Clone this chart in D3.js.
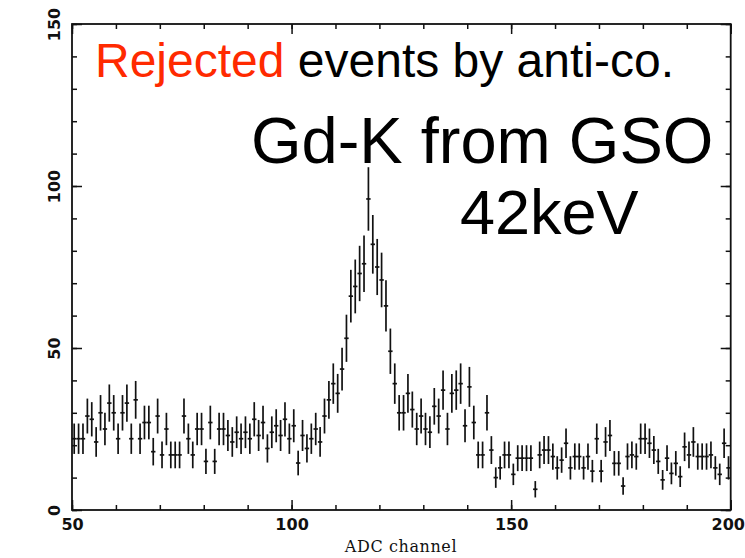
<!DOCTYPE html>
<html>
<head>
<meta charset="utf-8">
<script src="https://cdn.jsdelivr.net/npm/d3@7"></script>
<style>
  html, body { margin: 0; padding: 0; background: #fff; }
  svg { display: block; }
</style>
</head>
<body>
<svg id="chart" width="745" height="558"></svg>
<script>
// ---- data ----
const binStart = 50;          // first channel of first bin
const binWidth = 1;           // channels per bin
const counts = [
  22, 22, 22, 29, 28, 21, 30, 25, 33, 30,
  22, 30, 33, 22, 34, 22, 27, 27, 18, 29,
  17, 25, 17, 17, 17, 29, 22, 17, 25, 25,
  15, 27, 15, 25, 25, 23, 21, 24, 22, 24,
  22, 28, 23, 27, 19, 24, 26, 23, 28, 22,
  26, 14.5, 23, 19, 22, 25, 21, 29, 34, 39,
  36, 43.5, 53, 66, 69, 73, 76, 96, 82, 75,
  71, 63, 49, 39, 30, 30, 36, 31, 25, 29,
  25, 24, 32, 29, 37, 25, 36, 37, 39, 26,
  38, 27, 17, 17, 30, 18.5, 10, 13, 17, 17,
  11, 16, 16, 16, 16, 6.4, 17, 18.5, 18.5, 16.5,
  13, 15.4, 20.6, 13, 16.5, 16.5, 13, 16.5, 12, 22,
  12, 21, 23, 14.4, 14.4, 7.4, 16.5, 17, 16.5, 22,
  22, 20.6, 18.5, 15, 9.3, 16, 11.3, 14.4, 10.3, 19.5,
  17, 21, 16.5, 16.5, 16.5, 17, 13, 11, 20.6, 13
];
const xMajorTicks = [50, 100, 150, 200];
const xMinorTicks = d3.range(50, 201, 10);
const yMajorTicks = [0, 50, 100, 150];
const yMinorTicks = d3.range(0, 151, 10);
const xLabel = "ADC channel";
const titleRed = "Rejected";
const titleBlack = " events by anti-co.";
const note1 = "Gd-K from GSO";
const note2 = "42keV";

// ---- layout ----
const L = 72, R = 730.7, T = 24, B = 510;
const svg = d3.select("#chart");
const x = d3.scaleLinear().domain([50, 200]).range([L, R]);
const y = d3.scaleLinear().domain([0, 150]).range([B, T]);

const ink = "#111";
const tickFont = "'DejaVu Sans', sans-serif";

// frame
svg.append("rect").attr("x", L).attr("y", T).attr("width", R - L).attr("height", B - T)
  .attr("fill", "none").attr("stroke", ink).attr("stroke-width", 1.8);

function styleAxis(g) {
  g.select(".domain").remove();
  g.selectAll(".tick line").attr("stroke", ink).attr("stroke-width", 1.5);
}

// bottom axis (inward ticks)
svg.append("g").attr("transform", `translate(0,${B})`)
  .call(d3.axisBottom(x).tickValues(xMinorTicks).tickSize(-5).tickFormat(""))
  .call(styleAxis);
const xb = svg.append("g").attr("transform", `translate(0,${B})`)
  .call(d3.axisBottom(x).tickValues(xMajorTicks).tickSize(-10).tickPadding(0).tickFormat(d3.format("d")))
  .call(styleAxis);
xb.selectAll(".tick text").attr("y", 20).attr("dy", null)
  .attr("dx", d => d === 200 ? -3 : 0)
  .attr("font-family", tickFont).attr("font-weight", "bold").attr("font-size", 16).attr("fill", ink);

// top axis
svg.append("g").attr("transform", `translate(0,${T})`)
  .call(d3.axisTop(x).tickValues(xMinorTicks).tickSize(-5).tickFormat(""))
  .call(styleAxis);
svg.append("g").attr("transform", `translate(0,${T})`)
  .call(d3.axisTop(x).tickValues(xMajorTicks).tickSize(-10).tickFormat(""))
  .call(styleAxis);

// left axis
svg.append("g").attr("transform", `translate(${L},0)`)
  .call(d3.axisLeft(y).tickValues(yMinorTicks).tickSize(-5).tickFormat(""))
  .call(styleAxis);
const yl = svg.append("g").attr("transform", `translate(${L},0)`)
  .call(d3.axisLeft(y).tickValues(yMajorTicks).tickSize(-10).tickFormat(d3.format("d")))
  .call(styleAxis);
yl.selectAll(".tick text")
  .attr("x", null).attr("dy", null)
  .attr("transform", "translate(-18,0) rotate(-90)")
  .attr("text-anchor", "middle").attr("dominant-baseline", "central")
  .attr("font-family", tickFont).attr("font-weight", "bold").attr("font-size", 16).attr("fill", ink);

// right axis
svg.append("g").attr("transform", `translate(${R},0)`)
  .call(d3.axisRight(y).tickValues(yMinorTicks).tickSize(-5).tickFormat(""))
  .call(styleAxis);
svg.append("g").attr("transform", `translate(${R},0)`)
  .call(d3.axisRight(y).tickValues(yMajorTicks).tickSize(-10).tickFormat(""))
  .call(styleAxis);

// x axis title
svg.append("text").attr("x", 401).attr("y", 552).attr("text-anchor", "middle")
  .attr("font-family", "'DejaVu Serif', serif").attr("font-size", 16)
  .attr("letter-spacing", 0.6).attr("fill", ink)
  .text(xLabel);

// ---- error bars ----
const bins = counts.map((v, i) => {
  const c0 = binStart + i * binWidth;
  const e = Math.sqrt(v);
  return { c0, c1: c0 + binWidth, cm: c0 + binWidth / 2, v, lo: v - e, hi: v + e };
});
const eb = svg.append("g").attr("stroke", ink).attr("stroke-width", 1.7).attr("fill", "none");
eb.selectAll("line.v").data(bins).join("line").attr("class", "v")
  .attr("x1", d => x(d.cm)).attr("x2", d => x(d.cm))
  .attr("y1", d => y(d.lo)).attr("y2", d => y(d.hi));
eb.selectAll("line.h").data(bins).join("line").attr("class", "h")
  .attr("x1", d => x(d.c0)).attr("x2", d => x(d.c1))
  .attr("y1", d => y(d.v)).attr("y2", d => y(d.v));

// ---- annotations ----
const sans = "'Liberation Sans', Arial, Helvetica, sans-serif";
const t1 = svg.append("text").attr("x", 95).attr("y", 77)
  .attr("font-family", sans).attr("font-size", 48);
t1.append("tspan").attr("fill", "#ff2a00").text(titleRed);
t1.append("tspan").attr("fill", "#000").text(titleBlack);

svg.append("text").attr("x", 251).attr("y", 163)
  .attr("font-family", sans).attr("font-size", 65).attr("fill", "#000").text(note1);
svg.append("text").attr("x", 460).attr("y", 234)
  .attr("font-family", sans).attr("font-size", 63).attr("fill", "#000").text(note2);
</script>
</body>
</html>
